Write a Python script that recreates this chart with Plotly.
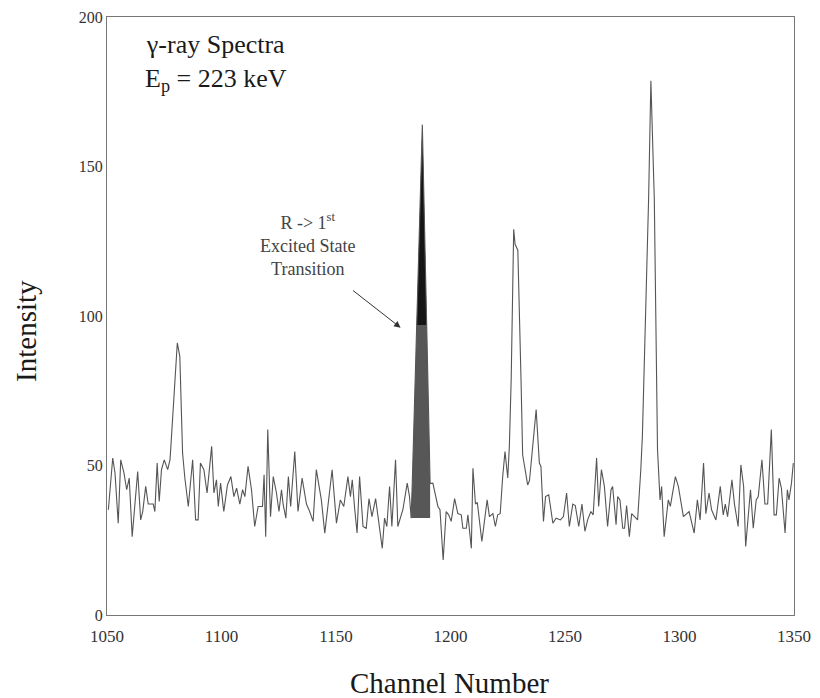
import plotly.graph_objects as go

# ---- data ----
channel = [
    1050.6, 1052.5, 1053.5, 1054.9, 1056.0, 1057.4, 1058.6, 1059.7, 1061.0, 1062.2,
    1063.4, 1064.7, 1065.6, 1066.9, 1068.0, 1070.2, 1070.9, 1071.9, 1072.8, 1073.8,
    1075.0, 1076.5, 1077.5, 1077.9, 1078.9, 1080.7, 1081.8, 1083.0, 1084.0, 1085.5,
    1087.4, 1088.7, 1089.8, 1090.8, 1092.3, 1093.7, 1095.7, 1096.7, 1097.8, 1098.6,
    1099.6, 1101.0, 1102.6, 1104.1, 1105.4, 1106.6, 1108.0, 1109.2, 1110.2, 1111.6,
    1113.1, 1114.5, 1116.0, 1117.9, 1118.6, 1119.3, 1120.2, 1121.4, 1122.6, 1124.0,
    1125.1, 1126.2, 1126.9, 1128.1, 1129.2, 1130.2, 1132.0, 1133.4, 1135.2, 1137.1,
    1138.5, 1140.0, 1141.4, 1143.6, 1145.1, 1146.5, 1148.3, 1150.2, 1151.9, 1153.4,
    1155.2, 1156.3, 1157.1, 1158.2, 1159.2, 1160.3, 1161.8, 1163.2, 1164.4, 1165.7,
    1167.3, 1170.2, 1171.2, 1172.2, 1173.4, 1174.4, 1176.0, 1177.0, 1179.2, 1181.1,
    1182.1, 1182.8, 1183.3, 1187.7, 1191.1, 1192.3, 1193.3, 1194.5, 1195.4, 1196.8,
    1198.1, 1199.2, 1200.3, 1201.8, 1203.2, 1204.7, 1205.4, 1206.9, 1207.6, 1209.1,
    1209.8, 1210.9, 1211.7, 1213.7, 1216.0, 1217.0, 1218.5, 1219.6, 1220.6, 1221.7,
    1222.8, 1223.8, 1225.0, 1225.7, 1226.5, 1227.6, 1228.2, 1229.4, 1230.8, 1231.5,
    1233.7, 1234.5, 1237.4, 1238.8, 1239.5, 1240.6, 1241.5, 1242.9, 1244.7, 1246.1,
    1248.0, 1249.3, 1250.7, 1251.9, 1253.4, 1254.5, 1256.0, 1257.4, 1258.7, 1259.9,
    1261.3, 1262.3, 1263.8, 1264.7, 1265.9, 1267.2, 1268.6, 1270.1, 1270.8, 1272.3,
    1273.0, 1274.0, 1275.2, 1276.0, 1276.9, 1278.1, 1279.1, 1281.7, 1283.1, 1283.8,
    1286.5, 1287.5, 1289.0, 1289.7, 1290.4, 1291.5, 1292.2, 1293.3, 1295.1, 1296.0,
    1298.2, 1299.5, 1301.7, 1304.2, 1306.4, 1307.8, 1309.0, 1310.5, 1311.5, 1312.9,
    1314.0, 1315.9, 1317.8, 1319.1, 1320.0, 1321.0, 1322.9, 1324.0, 1325.6, 1326.8,
    1328.0, 1328.9, 1330.4, 1331.0, 1332.2, 1333.5, 1334.4, 1336.0, 1337.3, 1338.5,
    1340.1, 1341.3, 1342.3, 1343.5, 1344.5, 1346.1, 1347.1, 1347.8, 1348.9, 1349.7,
]
intensity = [
    35.2, 52.5, 47.5, 30.7, 51.9, 47.5, 41.9, 45.8, 26.2, 36.3,
    48.0, 31.8, 34.6, 43.0, 37.1, 37.1, 34.6, 50.8, 38.0, 48.6,
    51.9, 48.6, 51.9, 56.4, 68.7, 91.0, 86.5, 54.2, 45.8, 36.3,
    51.9, 31.8, 31.8, 50.8, 48.6, 40.8, 56.4, 40.8, 45.2, 36.3,
    44.1, 34.6, 43.5, 46.3, 39.6, 42.4, 37.1, 41.9, 39.6, 49.7,
    41.9, 29.6, 36.3, 36.3, 46.9, 26.2, 62.0, 32.9, 46.3, 40.8,
    34.6, 41.9, 37.1, 32.4, 46.3, 36.3, 54.7, 34.6, 45.8, 37.1,
    34.6, 31.3, 48.6, 38.5, 27.4, 37.1, 48.6, 30.7, 38.5, 36.3,
    46.3, 39.6, 45.2, 35.2, 27.4, 46.3, 29.6, 29.0, 38.9, 32.9,
    38.9, 22.3, 32.4, 29.6, 43.0, 29.6, 51.9, 29.6, 35.2, 44.1,
    39.6, 32.4, 44.0, 164.0, 44.0, 44.1, 40.8, 36.3, 35.2, 18.4,
    34.6, 33.5, 31.3, 38.9, 33.9, 33.5, 29.0, 29.0, 33.5, 22.3,
    49.1, 37.1, 37.7, 24.6, 38.5, 32.9, 33.9, 29.6, 33.5, 33.9,
    46.3, 54.7, 45.8, 56.4, 78.7, 129.0, 124.0, 122.0, 78.7, 53.6,
    43.5, 45.0, 68.7, 50.8, 49.7, 31.3, 39.6, 40.2, 30.7, 32.4,
    31.8, 32.9, 40.8, 29.6, 37.1, 36.6, 29.6, 37.1, 28.0, 31.8,
    34.6, 33.5, 52.5, 36.3, 48.6, 43.0, 29.6, 41.9, 43.0, 30.2,
    39.6, 38.5, 29.0, 29.0, 36.6, 26.2, 33.9, 31.8, 48.6, 60.0,
    139.0, 178.7, 139.0, 98.8, 55.3, 38.5, 43.0, 26.2, 38.5, 36.3,
    46.3, 43.0, 32.9, 34.6, 27.4, 38.5, 31.8, 50.8, 33.9, 40.8,
    35.2, 31.8, 43.0, 33.5, 37.1, 32.9, 45.2, 37.1, 29.6, 50.2,
    43.0, 22.9, 38.5, 41.9, 29.0, 38.5, 39.6, 51.9, 37.1, 37.1,
    62.0, 33.5, 33.5, 45.8, 42.4, 27.4, 41.9, 38.5, 44.1, 50.8,
]

x_ticks = [1050, 1100, 1150, 1200, 1250, 1300, 1350]
y_ticks = [0, 50, 100, 150, 200]

# highlighted transition peak (channels) and level separating the two shades
peak_range = (1182.8, 1191.1)
shade_split = 97.0

# ---- build shaded peak polygons from the data ----
idx = [i for i, c in enumerate(channel) if peak_range[0] <= c <= peak_range[1]]
px = [channel[i] for i in idx]
py = [intensity[i] for i in idx]
base = py[0]
low_x = px + [px[-1], px[0]]
low_y = py + [base, base]

# portion of the peak above shade_split
up_x, up_y = [], []
for k in range(len(px)):
    if k > 0:
        y0, y1 = py[k - 1], py[k]
        if (y0 - shade_split) * (y1 - shade_split) < 0:
            t = (shade_split - y0) / (y1 - y0)
            up_x.append(px[k - 1] + t * (px[k] - px[k - 1]))
            up_y.append(shade_split)
    if py[k] >= shade_split:
        up_x.append(px[k])
        up_y.append(py[k])
up_x.append(up_x[0])
up_y.append(up_y[0])

serif = "Liberation Serif"

fig = go.Figure()
fig.add_trace(go.Scatter(x=low_x, y=low_y, fill="toself", mode="none",
                         fillcolor="#575757", hoverinfo="skip", showlegend=False))
fig.add_trace(go.Scatter(x=up_x, y=up_y, fill="toself", mode="none",
                         fillcolor="#151515", hoverinfo="skip", showlegend=False))
fig.add_trace(go.Scatter(x=channel, y=intensity, mode="lines",
                         line=dict(color="#555555", width=1.1), showlegend=False))

fig.add_annotation(x=1097.5, y=184.5, xref="x", yref="y",
                   text="γ-ray Spectra<br>E<sub>p</sub> = 223 keV",
                   showarrow=False, align="center",
                   font=dict(family=serif, size=26, color="#1a1a1a"))
fig.add_annotation(x=1137.7, y=124, xref="x", yref="y",
                   text="R -> 1<sup>st</sup><br>Excited State<br>Transition",
                   showarrow=False, align="center",
                   font=dict(family=serif, size=18, color="#444"))
fig.add_annotation(x=1178.2, y=96.1, ax=1156.8, ay=108.9,
                   xref="x", yref="y", axref="x", ayref="y",
                   text="", showarrow=True, arrowhead=2, arrowsize=1.3,
                   arrowwidth=1, arrowcolor="#333")

# axis titles
fig.add_annotation(x=0.498, y=-0.114, xref="paper", yref="paper",
                   text="Channel Number", showarrow=False,
                   xanchor="center", yanchor="middle",
                   font=dict(family=serif, size=29, color="#1a1a1a"))
fig.add_annotation(x=-0.118, y=0.475, xref="paper", yref="paper",
                   text="Intensity", showarrow=False, textangle=-90,
                   xanchor="center", yanchor="middle",
                   font=dict(family=serif, size=29, color="#1a1a1a"))

fig.update_layout(
    width=820, height=698,
    margin=dict(l=107, r=26, t=17, b=83, autoexpand=False),
    paper_bgcolor="white", plot_bgcolor="white",
    font=dict(family=serif, color="#222"),
)
fig.update_xaxes(range=[1050, 1350], tickvals=x_ticks, showgrid=False, zeroline=False,
                 showline=True, mirror=True, linecolor="#777", linewidth=1,
                 ticks="", ticklabelstandoff=6, automargin=False,
                 tickfont=dict(size=17, family=serif, color="#333"))
fig.update_yaxes(range=[0, 200], tickvals=y_ticks, showgrid=False, zeroline=False,
                 showline=True, mirror=True, linecolor="#777", linewidth=1,
                 ticks="", automargin=False,
                 tickfont=dict(size=16, family=serif, color="#333"))

fig.write_html("out.html")
